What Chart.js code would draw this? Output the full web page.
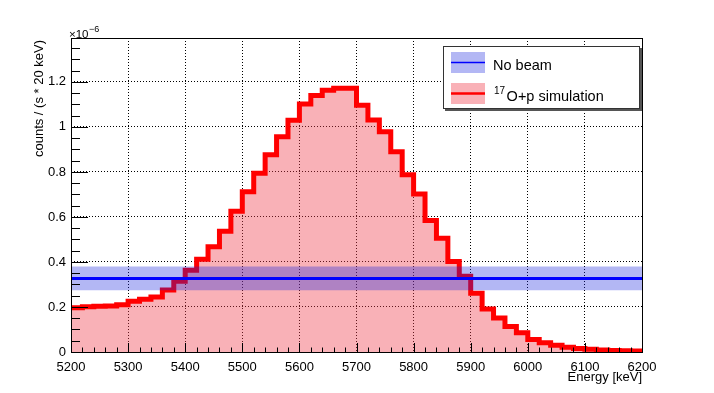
<!DOCTYPE html>
<html>
<head>
<meta charset="utf-8">
<script src="https://cdn.jsdelivr.net/npm/chart.js@4/dist/chart.umd.min.js"></script>
<style>
  html, body { margin: 0; padding: 0; background: #fff; }
</style>
</head>
<body>
<canvas id="histo" width="714" height="393"></canvas>
<script>
// bin edges in keV (20 keV bins)
var binEdges = [5200, 5220, 5240, 5260, 5280, 5300, 5320, 5340, 5360, 5380,
                5400, 5420, 5440, 5460, 5480, 5500, 5520, 5540, 5560, 5580,
                5600, 5620, 5640, 5660, 5680, 5700, 5720, 5740, 5760, 5780,
                5800, 5820, 5840, 5860, 5880, 5900, 5920, 5940, 5960, 5980,
                6000, 6020, 6040, 6060, 6080, 6100, 6120, 6140, 6160, 6180, 6200];

// 17O+p simulation, counts / (s * 20 keV), units of 1e-6
var simCounts = [0.197, 0.201, 0.203, 0.204, 0.210, 0.225, 0.234, 0.244, 0.276, 0.314,
                 0.363, 0.412, 0.468, 0.536, 0.625, 0.712, 0.794, 0.876, 0.956, 1.030,
                 1.102, 1.139, 1.163, 1.172, 1.172, 1.096, 1.031, 0.979, 0.890, 0.788,
                 0.702, 0.584, 0.505, 0.402, 0.336, 0.261, 0.191, 0.151, 0.113, 0.086,
                 0.056, 0.041, 0.030, 0.021, 0.016, 0.012, 0.009, 0.007, 0.005, 0.004];

// no beam level and its error band (units of 1e-6)
var noBeamRate = 0.327;
var noBeamErr = 0.053;

var xTicks = [5200, 5300, 5400, 5500, 5600, 5700, 5800, 5900, 6000, 6100, 6200];
var yTicks = [0, 0.2, 0.4, 0.6, 0.8, 1, 1.2];

var FONT = "'Liberation Sans', Arial, Helvetica, sans-serif";
var redFill = 'rgba(240, 60, 75, 0.4)';
var blueFill = 'rgba(20, 30, 220, 0.32)';

// step points: value of each bin at its left edge, last edge repeats last bin
var simPoints = binEdges.map(function (x, i) {
  return { x: x, y: simCounts[Math.min(i, simCounts.length - 1)] };
});
var xMin = binEdges[0], xMax = binEdges[binEdges.length - 1];

// ROOT-like frame, inner ticks, axis titles and legend
var rootStyle = {
  id: 'rootStyle',
  afterDraw: function (chart) {
    var ctx = chart.ctx, a = chart.chartArea;
    var xs = chart.scales.x, ys = chart.scales.y;
    ctx.save();

    // ticks
    ctx.strokeStyle = '#000';
    ctx.lineWidth = 1;
    ctx.beginPath();
    for (var k = 0; k * 0.05 <= ys.max + 1e-9; k++) {
      var py = Math.round(ys.getPixelForValue(k * 0.05)) + 0.5;
      ctx.moveTo(a.left, py);
      ctx.lineTo(a.left + (k % 4 === 0 ? 17 : 9), py);
    }
    for (var j = 0; xMin + j * 20 <= xMax; j++) {
      var px = Math.round(xs.getPixelForValue(xMin + j * 20)) + 0.5;
      ctx.moveTo(px, a.bottom);
      ctx.lineTo(px, a.bottom - (j % 5 === 0 ? 9 : 4.5));
    }
    ctx.stroke();

    // frame
    ctx.strokeRect(Math.round(a.left) + 0.5, Math.round(a.top) + 0.5,
                   Math.round(a.right - a.left), Math.round(a.bottom - a.top));

    // exponent
    ctx.fillStyle = '#000';
    ctx.textBaseline = 'alphabetic';
    ctx.textAlign = 'left';
    ctx.font = '11.5px ' + FONT;
    ctx.fillText('\u00d710', 69, 37.5);
    var w = ctx.measureText('\u00d710').width;
    ctx.font = '9px ' + FONT;
    ctx.fillText('\u22126', 69 + w + 0.5, 31.5);

    // axis titles
    ctx.font = '13px ' + FONT;
    ctx.textAlign = 'right';
    ctx.textBaseline = 'middle';
    ctx.fillText('Energy [keV]', a.right, 377);
    ctx.save();
    ctx.translate(39, a.top + 2);
    ctx.rotate(-Math.PI / 2);
    ctx.fillText('counts / (s * 20 keV)', 0, 0);
    ctx.restore();

    // legend
    var lx = 443, ly = 46, lw = 197, lh = 63;
    ctx.fillStyle = '#555';
    ctx.fillRect(lx + 2, ly + 2, lw, lh);
    ctx.fillStyle = '#fff';
    ctx.fillRect(lx, ly, lw, lh);
    ctx.strokeStyle = '#333';
    ctx.lineWidth = 1;
    ctx.strokeRect(lx + 0.5, ly + 0.5, lw - 1, lh - 1);

    ctx.fillStyle = blueFill;
    ctx.fillRect(451, 52, 34, 21);
    ctx.strokeStyle = '#0000ff';
    ctx.lineWidth = 1.5;
    ctx.beginPath(); ctx.moveTo(451, 62.5); ctx.lineTo(485, 62.5); ctx.stroke();

    ctx.fillStyle = redFill;
    ctx.fillRect(451, 83, 34, 21);
    ctx.strokeStyle = '#ff0000';
    ctx.lineWidth = 2.5;
    ctx.beginPath(); ctx.moveTo(451, 93.5); ctx.lineTo(485, 93.5); ctx.stroke();

    ctx.fillStyle = '#000';
    ctx.textAlign = 'left';
    ctx.textBaseline = 'alphabetic';
    ctx.font = '14.5px ' + FONT;
    ctx.fillText('No beam', 493, 70);
    ctx.font = '10px ' + FONT;
    ctx.fillText('17', 494, 94);
    var w17 = ctx.measureText('17').width;
    ctx.font = '14.5px ' + FONT;
    ctx.fillText('O+p simulation', 494 + w17 + 1.5, 100.5);

    ctx.restore();
  }
};

var ctx = document.getElementById('histo').getContext('2d');

var histoChart = new Chart(ctx, {
  type: 'line',
  data: {
    datasets: [
      { // no beam central value (top)
        data: [{ x: xMin, y: noBeamRate }, { x: xMax, y: noBeamRate }],
        borderColor: '#0000ff', borderWidth: 3, pointRadius: 0, fill: false
      },
      { // error band upper edge, filled down to lower edge
        data: [{ x: xMin, y: noBeamRate + noBeamErr }, { x: xMax, y: noBeamRate + noBeamErr }],
        borderWidth: 0, borderColor: 'rgba(0,0,0,0)', pointRadius: 0,
        backgroundColor: blueFill, fill: '+1'
      },
      {
        data: [{ x: xMin, y: noBeamRate - noBeamErr }, { x: xMax, y: noBeamRate - noBeamErr }],
        borderWidth: 0, borderColor: 'rgba(0,0,0,0)', pointRadius: 0, fill: false
      },
      { // simulation histogram
        data: simPoints,
        stepped: true,
        borderColor: '#ff0000', borderWidth: 5,
        borderJoinStyle: 'miter', borderCapStyle: 'butt',
        backgroundColor: redFill, fill: 'origin',
        pointRadius: 0
      }
    ]
  },
  options: {
    responsive: false,
    animation: false,
    devicePixelRatio: 1,
    layout: { padding: { left: 0, top: 38, right: 72, bottom: 0 } },
    plugins: { legend: { display: false }, tooltip: { enabled: false } },
    scales: {
      x: {
        type: 'linear', min: xMin, max: xMax,
        afterBuildTicks: function (s) { s.ticks = xTicks.map(function (v) { return { value: v }; }); },
        afterFit: function (s) { s.height = 41; },
        ticks: {
          color: '#000', font: { family: FONT, size: 13 }, padding: 8,
          maxRotation: 0, autoSkip: false,
          callback: function (v) { return String(v); }
        },
        grid: { color: '#000', lineWidth: 1, drawTicks: false },
        border: { display: false, dash: [1, 2] }
      },
      y: {
        type: 'linear', min: 0, max: 1.395,
        afterBuildTicks: function (s) { s.ticks = yTicks.map(function (v) { return { value: v }; }); },
        afterFit: function (s) { s.width = 71; },
        ticks: {
          color: '#000', font: { family: FONT, size: 13 }, padding: 5,
          callback: function (v) { return String(+v.toFixed(1)); }
        },
        grid: { color: '#000', lineWidth: 1, drawTicks: false },
        border: { display: false, dash: [1, 2] }
      }
    }
  },
  plugins: [rootStyle]
});
</script>
</body>
</html>
